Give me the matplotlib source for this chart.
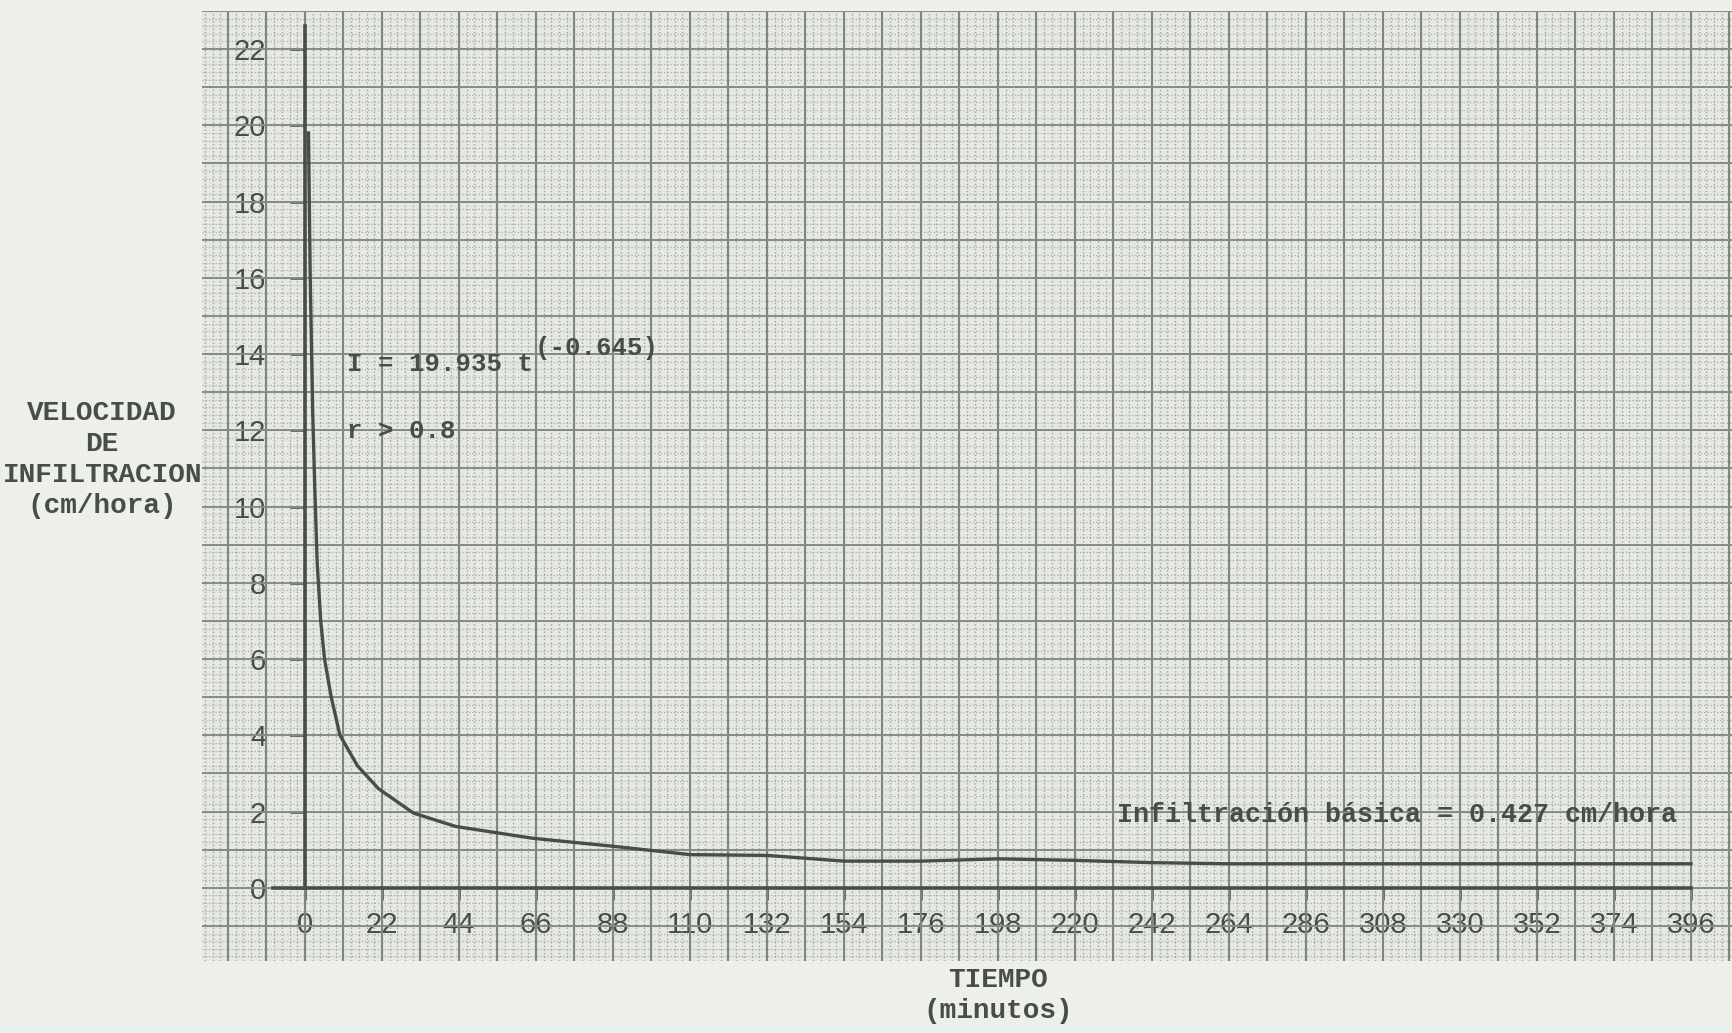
import numpy as np
import matplotlib
matplotlib.use("Agg")
import matplotlib.pyplot as plt
from matplotlib import font_manager

# ---------------- data ----------------
tiempo_min = [1.0, 1.5, 2.2, 2.8, 3.5, 4.5, 5.6, 7.5, 10.0, 15.0, 21.0,
              31.0, 43.0, 65.0, 88.0, 110.0, 132.0, 154.0, 176.0, 198.0,
              220.0, 242.0, 264.0, 396.0]
velocidad = [19.8, 16.0, 12.5, 10.5, 8.5, 7.0, 6.0, 5.0, 4.0, 3.2, 2.6,
             1.96, 1.61, 1.30, 1.09, 0.87, 0.85, 0.70, 0.70, 0.76,
             0.72, 0.66, 0.63, 0.63]
x_ticks = list(range(0, 397, 22))
y_ticks = list(range(0, 23, 2))
ecuacion = "I = 19.935 t"
exponente = "(-0.645)"
correlacion = "r > 0.8"
basica = "Infiltración básica = 0.427 cm/hora"
y_label = "VELOCIDAD\nDE\nINFILTRACION\n(cm/hora)"
x_label = "TIEMPO\n(minutos)"

# ---------------- fonts ----------------
names = {f.name for f in font_manager.fontManager.ttflist}
num_font = "Liberation Sans" if "Liberation Sans" in names else "DejaVu Sans"
mono = "Liberation Mono" if "Liberation Mono" in names else "DejaVu Sans Mono"

ink = "#494d49"
paper = "#ecefea"
grid_paper = "#e6e9e3"

fig = plt.figure(figsize=(17.33, 10.33), dpi=100, facecolor=paper)
ax = fig.add_axes([0.1166, 0.0697, 0.8834, 0.9197])
ax.set_facecolor(grid_paper)
ax.set_xlim(-29.4, 408)
ax.set_ylim(-1.92, 23.0)

# graph-paper grid
x0, x1 = ax.get_xlim()
y0, y1 = ax.get_ylim()
ax.vlines(np.arange(-33, 409, 2.2), y0, y1, colors="#9ea39e", lw=1.0,
          linestyles=(0, (1, 1.6)), zorder=1)
ax.hlines(np.arange(-2, 23.01, 0.2), x0, x1, colors="#a8ada8", lw=0.9,
          linestyles=(0, (1, 1.6)), zorder=1)
ax.vlines(np.arange(-33, 409, 11), y0, y1, colors="#80857f", lw=1.5, zorder=2)
ax.hlines(np.arange(-2, 24, 1), x0, x1, colors="#868b85", lw=1.4, zorder=2)

# axes through the origin
for s in ["top", "right"]:
    ax.spines[s].set_visible(False)
ax.spines["left"].set_position(("data", 0))
ax.spines["bottom"].set_position(("data", 0))
ax.spines["left"].set_bounds(0, 22.6)
ax.spines["bottom"].set_bounds(-9, 396)
for s in ["left", "bottom"]:
    ax.spines[s].set_color(ink)
    ax.spines[s].set_linewidth(2.6)
    ax.spines[s].set_zorder(4)

ax.set_xticks(x_ticks)
ax.set_yticks(y_ticks)
ax.set_xticklabels([str(v) for v in x_ticks], fontfamily=num_font,
                   fontsize=21, color=ink)
ax.set_yticklabels([str(v) for v in y_ticks], fontfamily=num_font,
                   fontsize=21, color=ink)
ax.tick_params(axis="x", direction="out", length=8.5, width=1.8, color=ink, pad=8)
ax.tick_params(axis="y", direction="out", length=11, width=1.8, color=ink, pad=17)

# curve
ax.plot(tiempo_min, velocidad, color=ink, lw=2.4, zorder=5,
        solid_joinstyle="round")

# annotations
txt = dict(fontfamily=mono, color=ink, fontweight="bold", zorder=6,
           ha="left", va="center")
ax.text(12, 13.73, ecuacion, fontsize=18.5, **txt)
ax.text(65.7, 14.15, exponente, fontsize=18.5, **txt)
ax.text(12, 11.97, correlacion, fontsize=18.5, **txt)
ax.text(232, 1.92, basica, fontsize=19.3, **txt)

# axis titles
fig.text(0.059, 0.5555, y_label, fontfamily=mono, fontsize=20, color=ink,
         fontweight="bold", ha="center", va="center",
         multialignment="center", linespacing=1.25)
fig.text(0.576, 0.036, x_label, fontfamily=mono, fontsize=20, color=ink,
         fontweight="bold", ha="center", va="center",
         multialignment="center", linespacing=1.25)

fig.savefig("out.png", dpi=100, facecolor=paper)
